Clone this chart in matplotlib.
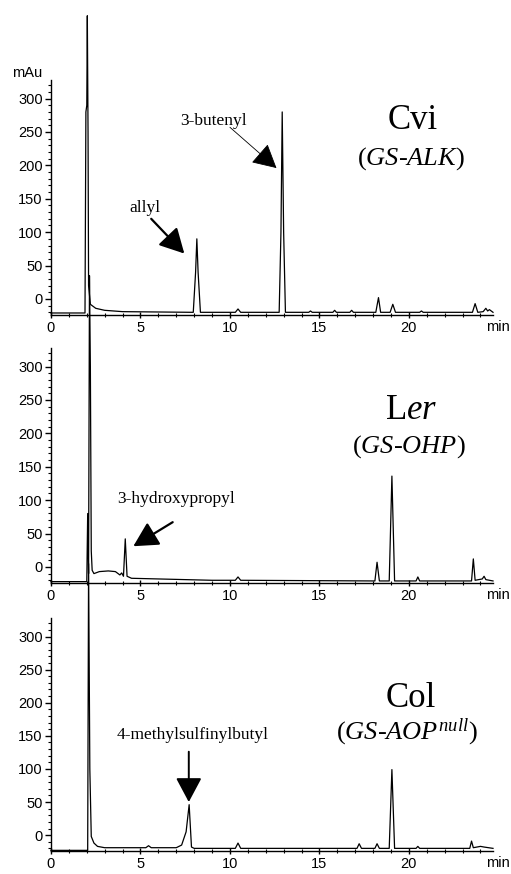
import matplotlib
matplotlib.use('Agg')
import matplotlib.pyplot as plt
import matplotlib.transforms as mtransforms
from matplotlib.ticker import MultipleLocator

# retention time (min) / absorbance (mAu)
cvi_t = [0, 1.9, 1.95, 2.0, 2.03, 2.07, 2.1, 2.2, 2.5, 3.0, 4.0,
         7.95, 8.08, 8.15, 8.22, 8.35, 10.3, 10.45, 10.6,
         12.75, 12.85, 12.92, 13.0, 13.1, 14.4, 14.5, 14.6, 15.75, 15.85, 15.95,
         16.7, 16.8, 16.9, 18.15, 18.3, 18.42, 18.95, 19.1, 19.25,
         20.6, 20.7, 20.8, 23.55, 23.7, 23.85, 24.15, 24.3, 24.4, 24.5, 24.7]
cvi_y = [-21, -21, 280, 290, 424, 250, 20, -8, -14, -17, -19,
         -20, 40, 90, 40, -20, -20, -15, -20,
         -20, 100, 280, 100, -20, -20, -18, -20, -20, -17, -20,
         -20, -17, -20, -20, 2, -20, -20, -8, -20,
         -20, -18, -20, -20, -7, -20, -19, -14, -18, -16, -20]

ler_t = [0, 2.0, 2.05, 2.1, 2.15, 2.2, 2.25, 2.3, 2.4, 2.7, 3.2, 3.6, 3.85,
         3.95, 4.05, 4.15, 4.25, 4.5, 6.0, 9.0, 10.3, 10.45, 10.6,
         18.1, 18.22, 18.35, 18.9, 19.05, 19.2, 20.4, 20.5, 20.6,
         23.5, 23.6, 23.7, 24.1, 24.2, 24.3, 24.7]
ler_y = [-22, -22, 80, -10, 436, 300, 24, -5, -10, -7, -6, -7, -12,
         -9, -14, 42, -14, -17, -18, -20, -20, -15, -20,
         -21, 7, -21, -21, 136, -21, -21, -15, -21,
         -21, 12, -20, -18, -14, -19, -21]

col_t = [0, 2.0, 2.05, 2.1, 2.17, 2.25, 2.4, 2.6, 3.0, 5.3, 5.45, 5.6,
         7.0, 7.3, 7.55, 7.72, 7.85, 8.0, 10.3, 10.45, 10.6,
         17.1, 17.22, 17.35, 18.1, 18.22, 18.35, 18.9, 19.05, 19.2,
         20.4, 20.5, 20.6, 23.4, 23.5, 23.6, 24.0, 24.2, 24.7]
col_y = [-23, -23, -23, 410, 100, -2, -12, -17, -19, -19, -16, -19,
         -19, -15, 5, 46, -18, -20, -20, -12, -20,
         -20, -13, -20, -20, -13, -20, -20, 99, -20,
         -20, -17, -20, -20, -9, -19, -17, -18, -20]

y_ticks = [0, 50, 100, 150, 200, 250, 300]
x_ticks = [0, 5, 10, 15, 20]

plt.rcParams['mathtext.fontset'] = 'custom'
plt.rcParams['mathtext.rm'] = 'Liberation Serif'
plt.rcParams['mathtext.it'] = 'Liberation Serif:italic'

SANS = 'Liberation Sans'
SERIF = 'Liberation Serif'


def setup(fig, ax):
    ax.set_xlim(0, 24.7)
    ax.set_ylim(-24, 328)
    for s in ('top', 'right'):
        ax.spines[s].set_visible(False)
    for s in ('left', 'bottom'):
        ax.spines[s].set_linewidth(1.0)
    ax.set_yticks(y_ticks)
    ax.set_xticks(x_ticks)
    ax.yaxis.set_minor_locator(MultipleLocator(10))
    ax.xaxis.set_minor_locator(MultipleLocator(1))
    ax.tick_params(axis='y', which='major', direction='out', length=4, width=1, pad=2, labelsize=10.5)
    ax.tick_params(axis='y', which='minor', direction='out', length=2, width=0.8)
    ax.tick_params(axis='x', which='major', direction='inout', length=5, width=1, pad=2, labelsize=10.5)
    ax.tick_params(axis='x', which='minor', direction='inout', length=3, width=0.8)
    for lab in ax.get_xticklabels() + ax.get_yticklabels():
        lab.set_fontfamily(SANS)
    trans = mtransforms.blended_transform_factory(fig.transFigure, ax.transAxes)
    ax.text(0.997, -0.02, 'min', transform=trans, ha='right', va='top',
            fontsize=10.5, family=SANS)


def arrow(ax, tip, tail, lw=1.2):
    ax.annotate('', xy=tip, xytext=tail,
                arrowprops=dict(arrowstyle='-|>,head_length=0.75,head_width=0.4',
                                mutation_scale=20, lw=lw, color='black',
                                shrinkA=0, shrinkB=0))


fig = plt.figure(figsize=(5.11, 8.74), dpi=100)
ax1 = fig.add_axes([0.0998, 0.6396, 0.865, 0.269])
ax2 = fig.add_axes([0.0998, 0.333, 0.865, 0.269])
ax3 = fig.add_axes([0.0998, 0.0263, 0.865, 0.2666])

for ax, t, y in ((ax1, cvi_t, cvi_y), (ax2, ler_t, ler_y), (ax3, col_t, col_y)):
    setup(fig, ax)
    ax.plot(t, y, color='black', lw=0.9, clip_on=False)

ax1.text(-0.02, 1.0, 'mAu', transform=ax1.transAxes, ha='right', va='bottom',
         fontsize=10.5, family=SANS)

# Cvi
ax1.text(20.2, 267, 'Cvi', ha='center', va='center', fontsize=25, family=SERIF)
ax1.text(20.1, 210, r'($GS$-$ALK$)', ha='center', va='center', fontsize=19, family=SERIF)
ax1.text(5.25, 136, 'allyl', ha='center', va='center', fontsize=12.5, family=SERIF)
arrow(ax1, (7.45, 68), (5.6, 120), lw=1.6)
ax1.text(9.1, 267, '3-butenyl', ha='center', va='center', fontsize=12.5, family=SERIF)
arrow(ax1, (12.6, 196), (10.0, 257), lw=0.6)

# Ler
ax2.text(20.1, 234, r'L$er$', ha='center', va='center', fontsize=25, family=SERIF)
ax2.text(20.0, 180, r'($GS$-$OHP$)', ha='center', va='center', fontsize=19, family=SERIF)
ax2.text(7.0, 102, '3-hydroxypropyl', ha='center', va='center', fontsize=12.5, family=SERIF)
arrow(ax2, (4.6, 31), (6.8, 67), lw=1.6)

# Col
ax3.text(20.1, 207, 'Col', ha='center', va='center', fontsize=25, family=SERIF)
ax3.text(19.9, 156, r'($GS$-$AOP^{null}$)', ha='center', va='center', fontsize=19, family=SERIF)
ax3.text(7.93, 151, '4-methylsulfinylbutyl', ha='center', va='center', fontsize=12.5, family=SERIF)
arrow(ax3, (7.7, 50), (7.7, 126), lw=1.4)

fig.savefig('out.png', dpi=100)
